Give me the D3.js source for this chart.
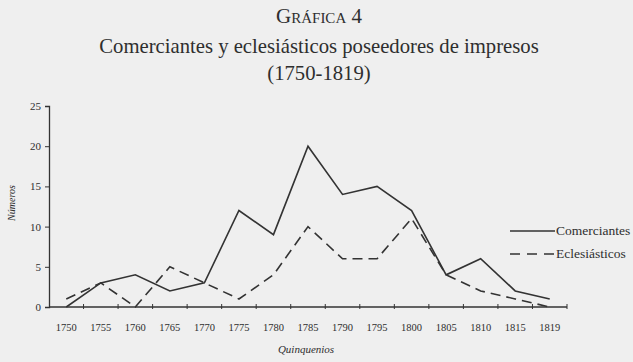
<!DOCTYPE html>
<html>
<head>
<meta charset="utf-8">
<script src="https://cdn.jsdelivr.net/npm/d3@7"></script>
<style>
  body { margin: 0; background: #efefef; }
  svg { display: block; background: #efefef; }
  text { font-family: "Liberation Serif", "DejaVu Serif", serif; fill: #2e2e2e; }
</style>
</head>
<body>
<div id="chart"></div>
<script>
// quinquenios (tick labels)
var years = ["1750", "1755", "1760", "1765", "1770", "1775", "1780", "1785",
    "1790", "1795", "1800", "1805", "1810", "1815", "1819"];
// series values
var comerciantes = [0, 3, 4, 2, 3, 12, 9, 20, 14, 15, 12, 4, 6, 2, 1];
var eclesiasticos = [1, 3, 0, 5, 3, 1, 4, 10, 6, 6, 11, 4, 2, 1, 0];
var yTicks = [0, 5, 10, 15, 20, 25];

var series = [
    { name: "Comerciantes", values: comerciantes, dash: null },
    { name: "Eclesiásticos", values: eclesiasticos, dash: "10,6" }
];

var W = 633, H = 362;

var svg = d3.select("#chart")
    .append("svg")
    .attr("width", W)
    .attr("height", H);

// title
svg.append("text")
    .attr("x", 319)
    .attr("y", 23)
    .attr("text-anchor", "middle")
    .style("font-size", "21px")
    .style("font-variant", "small-caps")
    .text("Gráfica 4");

svg.append("text")
    .attr("x", 319)
    .attr("y", 53)
    .attr("text-anchor", "middle")
    .style("font-size", "20.7px")
    .text("Comerciantes y eclesiásticos poseedores de impresos");

svg.append("text")
    .attr("x", 319)
    .attr("y", 80)
    .attr("text-anchor", "middle")
    .style("font-size", "20.7px")
    .text("(1750-1819)");

// scales
var x = d3.scaleBand()
    .domain(years)
    .range([49, 567])
    .padding(0);

var y = d3.scaleLinear()
    .domain([0, 25])
    .range([307, 106]);

var cx = function(d, i) { return x(years[i]) + x.bandwidth() / 2; };

// y axis
svg.append("g")
    .attr("transform", "translate(49,0)")
    .style("font-size", "11px")
    .call(d3.axisLeft(y).tickValues(yTicks).tickSize(4).tickPadding(4))
    .call(g => g.select(".domain").attr("stroke", "#333").attr("stroke-width", 1.3))
    .call(g => g.selectAll(".tick line").attr("stroke", "#333"))
    .call(g => g.selectAll(".tick text")
        .attr("fill", "#2e2e2e")
        .style("font-family", "Liberation Serif, serif"));

// x axis: ticks at band edges, labels at band centres
var xAxis = svg.append("g")
    .attr("transform", "translate(0,307)");

xAxis.append("line")
    .attr("x1", 49)
    .attr("x2", 567)
    .attr("stroke", "#333")
    .attr("stroke-width", 1.5);

xAxis.selectAll(".xtick")
    .data(years)
    .enter()
    .append("line")
    .attr("x1", d => x(d) + x.bandwidth())
    .attr("x2", d => x(d) + x.bandwidth())
    .attr("y1", -3)
    .attr("y2", 2)
    .attr("stroke", "#333");

xAxis.selectAll(".xlabel")
    .data(years)
    .enter()
    .append("text")
    .attr("x", d => x(d) + x.bandwidth() / 2)
    .attr("y", 24)
    .attr("text-anchor", "middle")
    .style("font-size", "10.5px")
    .text(d => d);

// axis titles
svg.append("text")
    .attr("x", 306)
    .attr("y", 353)
    .attr("text-anchor", "middle")
    .style("font-size", "11px")
    .style("font-style", "italic")
    .text("Quinquenios");

svg.append("text")
    .attr("transform", "translate(15,203) rotate(-90)")
    .attr("text-anchor", "middle")
    .style("font-size", "10px")
    .style("font-style", "italic")
    .text("Números");

// lines
var line = d3.line()
    .x(cx)
    .y(d => y(d));

svg.selectAll(".series")
    .data(series)
    .enter()
    .append("path")
    .attr("d", d => line(d.values))
    .attr("fill", "none")
    .attr("stroke", "#333")
    .attr("stroke-width", 1.6)
    .attr("stroke-dasharray", d => d.dash);

// legend
var legend = svg.selectAll(".legend")
    .data(series)
    .enter()
    .append("g")
    .attr("transform", (d, i) => "translate(510," + (231 + i * 23) + ")");

legend.append("line")
    .attr("x1", 0)
    .attr("x2", 45)
    .attr("stroke", "#333")
    .attr("stroke-width", 1.6)
    .attr("stroke-dasharray", d => d.dash ? "10,7" : null);

legend.append("text")
    .attr("x", 46)
    .attr("y", 4)
    .style("font-size", "13.5px")
    .text(d => d.name);
</script>
</body>
</html>
